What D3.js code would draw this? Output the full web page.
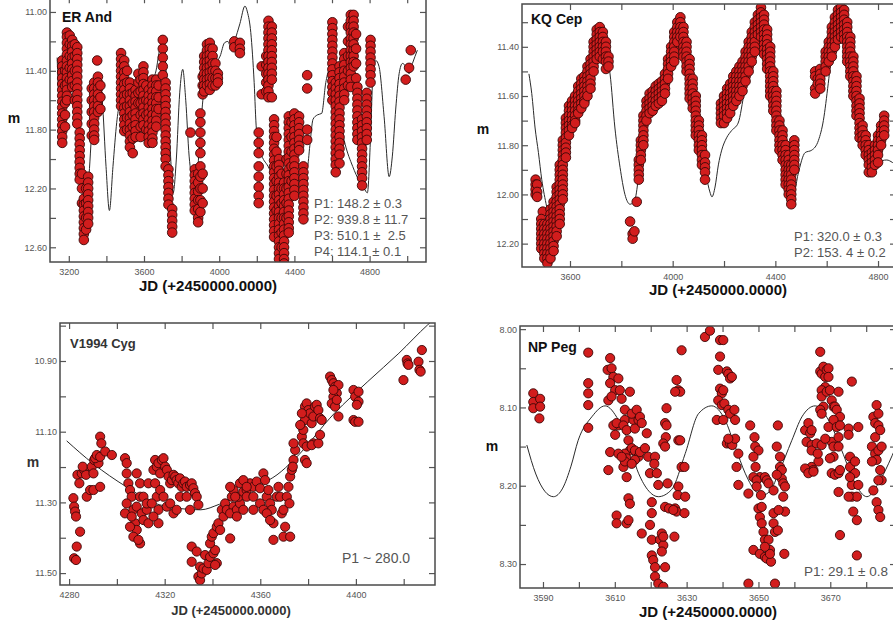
<!DOCTYPE html>
<html>
<head>
<meta charset="utf-8">
<script src="https://cdn.jsdelivr.net/npm/d3@7"></script>
<style>
  html, body { margin: 0; padding: 0; background: #fff; }
  svg { display: block; font-family: "Liberation Sans", Arial, sans-serif; }
</style>
</head>
<body>
<svg id="chart" width="893" height="625"></svg>
<script>
// ---- ER And : observations as [JD, mag, mag, ...] columns ----
const erAndObs = [
  [3165, 11.33,11.37,11.41,11.45,11.49,11.53,11.57,11.61,11.65,11.69,11.73,11.77,11.81,11.85,11.89],
  [3180, 11.40,11.50,11.62,11.70,11.78],
  [3190, 11.14,11.17,11.21,11.25,11.29,11.33,11.37,11.41,11.45,11.49,11.53,11.57,11.60],
  [3205, 11.16,11.22,11.30,11.38,11.46],
  [3218, 11.19,11.23,11.27,11.31,11.35,11.39,11.43,11.47,11.51],
  [3232, 11.22,11.30,11.40,11.50,11.60],
  [3245, 11.24,11.28,11.32,11.36,11.40,11.44,11.48,11.52,11.56,11.60,11.64,11.68,11.72,11.76],
  [3258, 11.82,11.86,11.90,11.94,11.98,12.02,12.06,12.10,12.14],
  [3270, 12.10,12.20,12.30],
  [3280, 12.27,12.31,12.35,12.39,12.43,12.47,12.51,12.55],
  [3292, 12.20,12.30,12.40,12.48],
  [3303, 12.12,12.16,12.20,12.24,12.28,12.32,12.36,12.40,12.44],
  [3322, 11.52,11.60,11.68,11.76,11.84],
  [3335, 11.48,11.52,11.56,11.60,11.64,11.68,11.72,11.76,11.80,11.84,11.87],
  [3351, 11.33],
  [3355, 11.44,11.48,11.52,11.56,11.60,11.64,11.68],
  [3368, 11.50,11.58,11.66],
  [3478, 11.28,11.32,11.36,11.40,11.44,11.48,11.52,11.56,11.60,11.64],
  [3495, 11.33,11.37,11.41,11.45,11.49,11.53,11.57,11.61,11.65,11.69,11.73,11.77,11.81],
  [3510, 11.40,11.48,11.56,11.64,11.72,11.80],
  [3525, 11.48,11.52,11.56,11.60,11.64,11.68,11.72,11.76,11.80,11.84,11.88,11.92],
  [3540, 11.55,11.62,11.70,11.78,11.86,11.96],
  [3555, 11.53,11.57,11.61,11.65,11.69,11.73,11.77,11.81,11.85],
  [3570, 11.42,11.48,11.55,11.62],
  [3582, 11.46,11.54,11.62,11.70,11.78,11.85],
  [3597, 11.37,11.41,11.45,11.49,11.53,11.57,11.61,11.65,11.69,11.73,11.77],
  [3612, 11.50,11.60,11.70,11.80],
  [3625, 11.53,11.57,11.61,11.65,11.69,11.73,11.77,11.81,11.85,11.89],
  [3645, 11.46,11.50,11.54,11.58,11.62,11.66,11.70,11.74,11.78,11.82,11.86,11.89],
  [3665, 11.46,11.50,11.54,11.58,11.62,11.66,11.70,11.74,11.78],
  [3678, 11.50,11.58,11.66],
  [3700, 11.19,11.25,11.31,11.37,11.43],
  [3715, 11.48,11.52,11.56,11.60,11.64,11.68,11.72,11.76,11.80,11.84,11.88,11.92,11.96,12.00,12.05],
  [3730, 12.07,12.11,12.15,12.19,12.23,12.27,12.31],
  [3750, 12.34,12.38,12.42,12.46,12.50],
  [3847, 11.82],
  [3870, 12.07,12.11,12.15,12.19,12.23,12.27,12.31,12.35],
  [3888, 12.10,12.16,12.22,12.28,12.34,12.40,12.43],
  [3900, 11.69,11.75,11.82,11.89,11.96,12.05,12.12,12.20,12.28,12.36],
  [3912, 11.44,11.50,11.56,12.10,12.20,12.30],
  [3920, 11.30,11.34,11.38,11.42,11.46,11.50,11.54],
  [3935, 11.22,11.26,11.30,11.34,11.38,11.42,11.46,11.50],
  [3950, 11.21,11.25,11.29,11.33,11.37,11.41,11.45,11.49,11.53],
  [3965, 11.25,11.30,11.35,11.40,11.45,11.50],
  [3980, 11.35,11.40,11.45,11.50],
  [3993, 11.42,11.45,11.48],
  [4080, 11.20,11.24],
  [4110, 11.21,11.25,11.28],
  [4210, 11.82,11.89,11.96,12.05,12.12,12.19,12.25,12.30],
  [4226, 11.37,11.56],
  [4250, 11.30,11.36,11.42,11.48,11.54],
  [4262, 11.06,11.10,11.14,11.18,11.22,11.26,11.30,11.34,11.38,11.42,11.46,11.50,11.54,11.58],
  [4280, 11.10,11.14,11.18,11.22,11.26,11.30,11.34,11.38,11.42,11.46,11.58],
  [4292, 11.73,11.77,11.81,11.85,11.89,11.93,11.97,12.01,12.05,12.09,12.13,12.17,12.21,12.25,12.29,12.33,12.37,12.41,12.45,12.49,12.53],
  [4305, 11.85,11.95,12.05,12.15,12.25,12.35],
  [4318, 12.00,12.04,12.08,12.12,12.16,12.20,12.24,12.28,12.32,12.36,12.40,12.44,12.48,12.52,12.56,12.60,12.64,12.68],
  [4332, 12.10,12.20,12.30,12.40,12.50,12.60],
  [4345, 12.16,12.20,12.24,12.28,12.32,12.36,12.40,12.44,12.48,12.52,12.56,12.60,12.64,12.68,12.71],
  [4358, 12.00,12.10,12.20,12.30,12.40],
  [4370, 11.71,11.75,11.79,11.83,11.87,11.91,11.95,11.99,12.03,12.07,12.11,12.15,12.19,12.23,12.27,12.31,12.35,12.39,12.43,12.47,12.50],
  [4385, 11.75,11.85,11.95,12.05,12.15],
  [4400, 11.69,11.73,11.77,11.81,11.85,11.89,11.93,11.97,12.01,12.05,12.09,12.13,12.17,12.21,12.25],
  [4425, 11.71,11.75,11.79,11.83,11.87,11.91,11.94],
  [4448, 12.05,12.09,12.13,12.17,12.21,12.25,12.29,12.33,12.37,12.41],
  [4468, 11.43,11.52,11.80,11.87],
  [4602, 11.07,11.11,11.15,11.19,11.23,11.27,11.31,11.35,11.39,11.43,11.47,11.51,11.55,11.60],
  [4620, 11.48,11.52,11.56,11.60,11.64,11.68,11.72,11.76,11.80,11.84,11.88,11.92,11.96,12.00,12.04,12.09],
  [4640, 11.37,11.41,11.45,11.49,11.53,11.57,11.61,11.65,11.69,11.73,11.77,11.81,11.85,11.89,11.93,11.97,12.03],
  [4665, 11.28,11.32,11.36,11.40,11.44,11.48,11.52,11.56,11.60],
  [4685, 11.10,11.20,11.30,11.40,11.50],
  [4700, 11.02,11.06,11.10,11.14,11.18,11.22,11.26,11.30,11.34,11.38,11.42,11.46,11.51],
  [4715, 11.02,11.06,11.10,11.14,11.18,11.22,11.26,11.30,11.34,11.37],
  [4728, 11.15,11.25,11.35,11.45],
  [4735, 11.51,11.55,11.59,11.63,11.67,11.71,11.75,11.79,11.83,11.87],
  [4760, 11.73,11.77,11.81,11.85,11.89,11.93,11.97,12.01,12.05,12.09,12.13,12.18],
  [4785, 11.55,11.59,11.63,11.67,11.71,11.75,11.79,11.83,11.87],
  [4805, 11.19,11.23,11.27,11.31,11.35,11.39,11.43,11.48],
  [4992, 11.46],
  [5010, 11.38],
  [5019, 11.26]
]
const erAndFit = [
  [3138,11.31],[3150,11.60],[3165,11.50],[3185,11.25],[3200,11.18],[3220,11.30],[3245,11.70],
  [3265,12.05],[3285,12.30],[3305,12.15],[3325,11.75],[3345,11.45],[3360,11.42],[3378,11.60],
  [3398,12.05],[3416,12.35],[3435,12.05],[3455,11.75],[3470,11.62],[3495,11.55],[3520,11.62],
  [3550,11.75],[3580,11.62],[3620,11.50],[3660,11.42],[3690,11.22],[3705,11.20],[3720,11.45],
  [3740,11.95],[3755,12.23],[3772,12.00],[3790,11.55],[3806,11.39],[3822,11.60],[3840,11.98],
  [3860,12.15],[3877,12.18],[3895,11.90],[3913,11.60],[3940,11.37],[3975,11.35],[4005,11.30],
  [4028,11.21],[4046,11.20],[4062,11.24],[4083,11.19],[4110,11.08],[4137,10.96],[4150,11.00],
  [4168,11.14],[4186,11.48],[4198,11.80],[4220,11.95],[4260,12.05],[4300,12.15],[4330,12.22],
  [4344,12.24],[4360,12.10],[4390,12.00],[4420,12.03],[4455,12.05],[4469,12.05],[4482,11.91],
  [4499,11.73],[4522,11.70],[4545,11.69],[4567,11.48],[4584,11.40],[4600,11.42],[4630,11.65],
  [4670,11.90],[4710,12.05],[4745,12.15],[4771,12.20],[4788,12.23],[4806,11.82],[4818,11.42],
  [4833,11.33],[4850,11.37],[4877,11.71],[4904,12.12],[4921,11.98],[4939,11.66],[4957,11.42],
  [4975,11.35],[4992,11.37],[5010,11.42],[5028,11.35],[5054,11.26]
]
const erAndXTicks = [3200,3400,3600,3800,4000,4200,4400,4600,4800,5000]
const erAndXLabels = [3200,3600,4000,4400,4800]
const erAndYTicks = [11.0,11.2,11.4,11.6,11.8,12.0,12.2,12.4,12.6]
const erAndYLabels = [11.0,11.4,11.8,12.2,12.6]
const erAndNotes = ['P1: 148.2 \u00b1 0.3', 'P2: 939.8 \u00b1 11.7', 'P3: 510.1 \u00b1  2.5', 'P4: 114.1 \u00b1 0.1']

// ---- KQ Cep ----
const kqCepObs = [
  [3466, 11.94,11.96,11.98,12.00], [3472, 11.96,11.99,12.01], [3494, 12.07],
  [3488, 12.10,12.12,12.14,12.16,12.18,12.20,12.22],
  [3500, 12.12,12.14,12.16,12.18,12.20,12.22,12.24,12.26],
  [3512, 12.12,12.14,12.16,12.18,12.20,12.22,12.24,12.26,12.28],
  [3524, 12.06,12.08,12.10,12.12,12.14,12.16,12.18,12.20,12.22,12.24,12.26],
  [3536, 12.03,12.05,12.07,12.09,12.11,12.13,12.15,12.17,12.19,12.21,12.23],
  [3548, 11.97,11.99,12.01,12.03,12.05,12.07,12.09,12.11,12.13,12.15,12.17],
  [3560, 11.88,11.90,11.92,11.94,11.96,11.98,12.00,12.02,12.04,12.06,12.08,12.10,12.12],
  [3572, 11.78,11.80,11.82,11.84,11.86,11.88,11.90,11.92,11.94,11.96,11.98,12.00,12.02],
  [3584, 11.69,11.71,11.73,11.75,11.77,11.79,11.81,11.83,11.85],
  [3596, 11.64,11.66,11.68,11.70,11.72,11.74,11.76],
  [3608, 11.62,11.64,11.66,11.68,11.70,11.72,11.73],
  [3620, 11.60,11.62,11.64,11.66,11.68,11.70,11.71],
  [3632, 11.56,11.58,11.60,11.62,11.64,11.66,11.67],
  [3644, 11.53,11.55,11.57,11.59,11.61,11.63,11.65],
  [3656, 11.52,11.54,11.56,11.58,11.60,11.62,11.63],
  [3668, 11.48,11.50,11.52,11.54,11.56,11.58,11.60],
  [3680, 11.45,11.47,11.49,11.51,11.53,11.55,11.57],
  [3692, 11.38,11.40,11.42,11.44,11.46,11.48,11.50],
  [3704, 11.33,11.35,11.37,11.39,11.41,11.43,11.45],
  [3716, 11.32,11.34,11.36,11.38,11.40,11.42,11.44],
  [3728, 11.34,11.36,11.38,11.40,11.42,11.45],
  [3740, 11.38,11.40,11.42,11.44,11.46,11.49],
  [3750, 11.44,11.46,11.48],
  [3834, 12.11], [3844, 12.16,12.18], [3851, 12.15], [3860, 12.03],
  [3868, 11.86,11.88,11.90,11.92,11.94],
  [3876, 11.78,11.80,11.82,11.84,11.86],
  [3886, 11.68,11.70,11.72,11.74,11.76,11.78,11.80],
  [3898, 11.62,11.64,11.66,11.68,11.70],
  [3910, 11.59,11.61,11.63,11.65,11.67],
  [3922, 11.58,11.60,11.62,11.64,11.66],
  [3934, 11.56,11.58,11.60,11.62,11.64],
  [3946, 11.55,11.57,11.59,11.61,11.63],
  [3958, 11.54,11.56,11.58,11.60,11.62],
  [3970, 11.51,11.53,11.55,11.57,11.59],
  [3982, 11.45,11.47,11.49,11.51,11.53],
  [3994, 11.40,11.42,11.44,11.46,11.48],
  [4006, 11.34,11.36,11.38,11.40,11.42,11.44,11.46],
  [4018, 11.30,11.32,11.34,11.36,11.38],
  [4030, 11.28,11.30,11.32,11.34,11.36],
  [4042, 11.32,11.34,11.36,11.38,11.40,11.42,11.44],
  [4054, 11.38,11.40,11.42,11.44,11.46,11.48,11.50],
  [4066, 11.45,11.47,11.49,11.51,11.53,11.55,11.57,11.59,11.61],
  [4078, 11.53,11.55,11.57,11.59,11.61,11.63,11.65],
  [4090, 11.60,11.62,11.64,11.66,11.68,11.70,11.72,11.74,11.76],
  [4102, 11.70,11.72,11.74,11.76,11.78,11.80,11.82],
  [4114, 11.76,11.78,11.80,11.82,11.84,11.86,11.88],
  [4126, 11.84,11.87,11.89,11.91,11.94],
  [4188, 11.63,11.65,11.67,11.69,11.71],
  [4200, 11.60,11.62,11.64,11.66,11.68,11.71],
  [4212, 11.57,11.59,11.61,11.63,11.65,11.67,11.69],
  [4224, 11.55,11.57,11.59,11.61,11.63,11.65,11.67],
  [4236, 11.52,11.54,11.56,11.58,11.60,11.62,11.64],
  [4248, 11.50,11.52,11.54,11.56,11.58,11.60,11.62],
  [4260, 11.48,11.50,11.52,11.54,11.56,11.58,11.60],
  [4272, 11.46,11.48,11.50,11.52,11.54,11.56,11.58],
  [4284, 11.42,11.44,11.46,11.48,11.50,11.52,11.54],
  [4296, 11.38,11.40,11.42,11.44,11.46,11.48,11.50],
  [4308, 11.34,11.36,11.38,11.40,11.42,11.44,11.46],
  [4320, 11.30,11.32,11.34,11.36,11.38,11.40,11.42],
  [4332, 11.27,11.29,11.31,11.33,11.35],
  [4344, 11.24,11.26,11.28,11.30,11.32,11.34,11.36],
  [4356, 11.27,11.29,11.31,11.33,11.35,11.37,11.39,11.41,11.43],
  [4368, 11.33,11.35,11.37,11.39,11.41,11.43,11.45,11.47,11.49],
  [4380, 11.40,11.42,11.44,11.46,11.48,11.50,11.52,11.54,11.56,11.58,11.60],
  [4392, 11.50,11.52,11.54,11.56,11.58,11.60,11.62,11.64,11.66],
  [4404, 11.58,11.60,11.62,11.64,11.66,11.68,11.70,11.72,11.74],
  [4416, 11.70,11.72,11.74,11.76,11.78,11.80,11.82],
  [4428, 11.74,11.76,11.78,11.80,11.82,11.84,11.86],
  [4440, 11.80,11.82,11.84,11.86,11.88,11.90,11.92,11.94,11.96],
  [4452, 11.84,11.86,11.88,11.90,11.92,11.94,11.96,11.98,12.00],
  [4462, 11.88,11.90,11.92,11.94,11.96,11.98,12.00,12.02,12.04],
  [4474, 11.78,11.80,11.82,11.84,11.86,11.88,11.90],
  [4555, 11.50,11.52,11.57,11.59], [4565, 11.53,11.55], [4575, 11.49,11.51,11.53,11.55,11.57],
  [4596, 11.42,11.44,11.46,11.48,11.50],
  [4608, 11.38,11.40,11.42,11.44,11.46],
  [4620, 11.32,11.34,11.36,11.38,11.40,11.42,11.44],
  [4632, 11.28,11.30,11.32,11.34,11.36,11.38,11.40],
  [4644, 11.25,11.27,11.29,11.31,11.33,11.35,11.37],
  [4656, 11.24,11.26,11.28,11.30,11.32,11.34,11.36],
  [4668, 11.25,11.27,11.29,11.31,11.33,11.35,11.37],
  [4680, 11.30,11.32,11.34,11.36,11.38,11.40,11.42,11.44,11.46],
  [4692, 11.36,11.38,11.40,11.42,11.44,11.46,11.48,11.50,11.52],
  [4704, 11.44,11.46,11.48,11.50,11.52,11.54,11.56,11.58,11.60],
  [4716, 11.52,11.54,11.56,11.58,11.60,11.62,11.64,11.66,11.68],
  [4728, 11.61,11.63,11.65,11.67,11.69,11.71,11.73,11.75,11.77],
  [4740, 11.72,11.74,11.76,11.78,11.80],
  [4752, 11.76,11.78,11.80,11.82,11.84],
  [4764, 11.80,11.82,11.84,11.86,11.88,11.91],
  [4776, 11.83,11.85,11.87,11.89,11.91],
  [4788, 11.80,11.82,11.84,11.86,11.88],
  [4800, 11.76,11.78,11.80,11.82,11.84,11.87],
  [4812, 11.72,11.74,11.76,11.78,11.80],
  [4824, 11.68,11.70,11.72,11.74,11.76]
]
const kqCepFit = [
  [3440,11.51],[3451,11.59],[3464,11.73],[3477,11.83],[3490,11.94],[3509,12.05],[3525,12.13],
  [3540,12.12],[3560,12.00],[3580,11.82],[3600,11.70],[3620,11.66],[3640,11.60],[3660,11.52],
  [3680,11.44],[3700,11.37],[3715,11.35],[3730,11.38],[3745,11.44],[3756,11.51],[3775,11.73],
  [3795,11.89],[3814,12.00],[3834,12.04],[3853,12.02],[3868,11.92],[3882,11.80],[3900,11.68],
  [3930,11.62],[3960,11.56],[3990,11.45],[4015,11.33],[4032,11.29],[4050,11.36],[4070,11.50],
  [4090,11.65],[4110,11.80],[4130,11.92],[4145,11.99],[4153,12.01],[4165,11.97],[4178,11.88],
  [4191,11.82],[4210,11.77],[4230,11.74],[4255,11.71],[4280,11.58],[4310,11.44],[4335,11.32],
  [4350,11.27],[4365,11.32],[4385,11.50],[4410,11.72],[4435,11.87],[4460,11.97],[4475,11.98],
  [4488,11.92],[4516,11.83],[4542,11.82],[4568,11.78],[4587,11.70],[4606,11.55],[4625,11.38],
  [4645,11.29],[4662,11.26],[4680,11.32],[4700,11.47],[4725,11.68],[4750,11.83],[4777,11.89],
  [4800,11.87],[4834,11.86],[4856,11.87],[4870,11.88]
]
const kqCepXTicks = [3600,3800,4000,4200,4400,4600,4800]
const kqCepXLabels = [3600,4000,4400,4800]
const kqCepYTicks = [11.3,11.4,11.5,11.6,11.7,11.8,11.9,12.0,12.1,12.2]
const kqCepYLabels = [11.4,11.6,11.8,12.0,12.2]
const kqCepNotes = ['P1: 320.0 \u00b1 0.3', 'P2: 153. 4 \u00b1 0.2']

// ---- V1994 Cyg : [JD, mag] ----
const v1994Obs = [
  [4281.8,11.288],[4282.1,11.312],[4282.5,11.326],[4282.9,11.340],[4283.2,11.425],[4282.1,11.458],
  [4282.9,11.463],[4284.6,11.383],[4283.5,11.222],[4284.3,11.246],[4285.3,11.218],[4286.3,11.208],
  [4287.1,11.222],[4285.7,11.199],[4287.4,11.284],[4288.8,11.265],[4289.5,11.199],[4290.2,11.218],
  [4290.5,11.180],[4291.6,11.171],[4292.3,11.189],[4290.2,11.265],[4293.0,11.256],[4290.9,11.175],
  [4291.6,11.166],[4293.0,11.171],[4293.0,11.114],[4293.5,11.133],[4295.1,11.156],[4297.9,11.166],
  [4303.4,11.175],[4304.1,11.189],[4304.1,11.218],[4304.8,11.246],[4305.5,11.265],[4306.2,11.284],
  [4303.4,11.331],[4304.1,11.303],[4306.9,11.321],[4307.6,11.359],[4308.3,11.378],[4306.9,11.397],
  [4309.7,11.416],[4309.0,11.406],[4305.5,11.369],[4306.2,11.340],[4308.3,11.312],[4309.7,11.284],
  [4310.4,11.331],[4311.1,11.350],[4313.2,11.359],[4312.5,11.321],[4308.3,11.218],[4309.7,11.246],
  [4311.1,11.284],[4313.2,11.246],[4312.5,11.303],
  [4315.3,11.208],[4316.0,11.180],[4316.7,11.199],[4317.4,11.189],[4318.1,11.218],[4318.8,11.180],
  [4319.5,11.175],[4320.2,11.199],[4320.9,11.208],[4321.6,11.227],[4322.3,11.246],[4323.0,11.237],
  [4323.7,11.222],[4324.4,11.227],[4325.0,11.237],[4325.7,11.246],[4326.4,11.232],[4327.1,11.256],
  [4327.8,11.246],[4328.5,11.241],[4329.2,11.256],[4330.6,11.251],[4331.3,11.246],[4332.0,11.260],
  [4332.7,11.274],[4333.4,11.284],[4334.1,11.307],[4316.0,11.246],[4316.7,11.284],[4317.4,11.321],
  [4318.1,11.265],[4319.5,11.284],[4320.9,11.312],[4322.3,11.303],[4323.7,11.331],[4325.0,11.321],
  [4326.4,11.284],[4329.2,11.284],[4330.6,11.321],[4317.4,11.359],[4314.6,11.303],[4315.3,11.340],
  [4331.3,11.425],[4331.3,11.468],[4333.4,11.439],[4334.1,11.510],[4334.8,11.520],[4335.5,11.501],
  [4334.8,11.482],[4336.2,11.487],[4337.6,11.491],[4336.9,11.449],[4338.3,11.472],[4339.0,11.454],
  [4340.4,11.444],[4341.1,11.435],[4341.8,11.472],[4341.1,11.477],[4339.0,11.416],[4339.7,11.397],
  [4340.4,11.387],[4341.8,11.369],[4342.5,11.359],[4343.2,11.378],[4343.9,11.321],[4344.6,11.340],
  [4345.3,11.303],[4346.0,11.321],[4347.4,11.402],[4348.1,11.284],[4348.8,11.312],[4347.4,11.331],
  [4350.2,11.321],[4351.5,11.303],[4350.9,11.284],[4352.9,11.270],[4354.3,11.265],[4355.7,11.246],
  [4357.1,11.256],[4358.5,11.241],[4359.9,11.260],[4361.3,11.218],[4362.0,11.237],[4362.7,11.284],
  [4363.4,11.265],[4364.1,11.303],[4364.8,11.321],[4365.5,11.359],[4365.5,11.406],[4366.9,11.284],
  [4367.6,11.256],[4368.3,11.284],[4369.0,11.331],[4369.7,11.321],[4370.4,11.369],[4369.7,11.397],
  [4371.1,11.284],[4371.8,11.256],[4372.5,11.227],[4373.2,11.208],[4373.9,11.180],[4374.6,11.152],
  [4373.9,11.133],[4373.6,11.199],[4372.2,11.303],[4372.5,11.397],[4351.5,11.246],[4352.9,11.237],
  [4354.3,11.256],[4348.8,11.265],[4347.4,11.256],[4350.2,11.340],[4354.3,11.284],[4357.1,11.284],
  [4359.9,11.303],[4361.3,11.321],[4362.7,11.331],[4364.1,11.350],[4357.1,11.321],[4352.9,11.321],
  [4349.5,11.284],
  [4377.4,11.114],[4378.0,11.095],[4378.7,11.067],[4378.7,11.029],[4379.4,11.020],[4380.1,11.039],
  [4380.8,11.048],[4381.5,11.076],[4382.2,11.057],[4382.9,11.029],[4383.6,11.024],[4384.3,11.039],
  [4385.0,11.062],[4385.7,11.067],[4378.0,11.133],[4379.4,11.142],[4378.7,11.180],[4379.4,11.189],
  [4382.2,11.133],[4381.5,11.138],[4384.3,11.133],[4385.0,11.109],[4376.7,11.081],[4377.4,11.048],
  [4389.2,10.944],[4389.9,10.954],[4390.6,10.963],[4391.3,10.973],[4392.0,10.991],[4390.6,11.001],
  [4389.9,11.020],[4391.3,11.029],[4392.0,11.010],[4392.7,10.968],[4392.7,11.057],[4390.6,10.982],
  [4399.0,10.982],[4399.7,11.001],[4401.1,10.987],[4401.1,11.015],[4400.4,11.024],[4399.0,11.067],
  [4399.7,11.072],[4401.1,11.072],
  [4419.9,10.954],[4421.3,10.897],[4421.6,10.907],[4422.0,10.911],[4426.2,10.902],[4426.6,10.925],
  [4427.1,10.930],[4427.6,10.869]
]
const v1994Fit = [
  [4279,11.126],[4290,11.19],[4304,11.256],[4318,11.307],[4335,11.321],[4343,11.305],[4352,11.28],
  [4360,11.25],[4367,11.222],[4374,11.18],[4391,11.048],[4405,10.958],[4418,10.878],[4430,10.798],[4433,10.78]
]
const v1994XTicks = [4280,4300,4320,4340,4360,4380,4400,4420]
const v1994XLabels = [4280,4320,4360,4400]
const v1994YTicks = [10.8,10.9,11.0,11.1,11.2,11.3,11.4,11.5]
const v1994YLabels = [10.9,11.1,11.3,11.5]
const v1994Notes = ['P1 ~ 280.0']

// ---- NP Peg : [JD, mag] ----
const npPegObs = [
  [3587.3,8.082],[3587.3,8.093],[3587.3,8.101],[3589.2,8.089],[3589.2,8.099],[3589.0,8.114],
  [3602.6,8.030],[3602.6,8.069],[3602.6,8.082],[3602.6,8.097],[3602.6,8.126],
  [3608.7,8.037],[3608.0,8.052],[3609.1,8.050],[3609.6,8.061],[3608.7,8.069],[3610.1,8.078],
  [3608.2,8.091],[3609.1,8.086],[3611.0,8.063],[3611.4,8.078],[3611.9,8.089],[3612.8,8.103],
  [3614.2,8.080],[3612.8,8.116],[3611.0,8.123],[3610.1,8.135],[3609.6,8.123],[3608.7,8.157],
  [3608.2,8.180],[3610.5,8.120],[3612.4,8.123],[3613.3,8.129],[3613.8,8.142],[3615.2,8.116],
  [3614.7,8.108],[3615.6,8.127],[3616.1,8.103],[3616.6,8.116],[3617.0,8.112],[3617.5,8.120],
  [3614.2,8.155],[3612.8,8.159],[3613.3,8.165],[3612.4,8.176],[3612.8,8.169],[3613.3,8.189],
  [3614.7,8.152],[3615.6,8.155],[3616.6,8.163],[3617.0,8.157],[3618.4,8.152],[3615.6,8.167],
  [3614.7,8.172],[3611.0,8.159],[3611.9,8.163],[3610.5,8.238],[3610.5,8.248],[3613.8,8.216],
  [3614.2,8.223],[3613.3,8.248],[3613.8,8.244],[3617.5,8.261],[3618.9,8.133],[3619.3,8.163],
  [3619.8,8.184],[3621.2,8.163],[3621.7,8.184],[3621.0,8.172],
  [3619.8,8.250],[3620.3,8.235],[3620.3,8.221],[3620.3,8.269],[3620.3,8.289],[3620.7,8.295],
  [3621.2,8.304],[3621.2,8.316],[3622.1,8.325],[3622.6,8.269],[3623.1,8.261],[3623.5,8.276],
  [3623.1,8.284],[3623.5,8.265],[3624.0,8.304],[3623.5,8.329],[3622.1,8.199],
  [3624.4,8.101],[3624.0,8.120],[3624.2,8.138],[3623.5,8.146],[3624.0,8.150],[3624.4,8.123],
  [3624.7,8.197],[3624.0,8.227],[3625.1,8.229],[3626.8,8.229],[3627.2,8.233],[3626.3,8.231],
  [3626.6,8.265],[3627.7,8.201],[3627.7,8.142],[3628.2,8.142],[3627.5,8.212],[3628.6,8.176],
  [3629.4,8.176],[3629.4,8.235],[3629.6,8.214],[3627.2,8.065],[3627.7,8.078],[3628.2,8.080],
  [3628.6,8.027],[3626.8,8.080],
  [3635.1,8.010],[3636.5,8.002],[3639.3,8.014],[3640.2,8.014],[3639.3,8.035],[3638.8,8.052],
  [3639.3,8.076],[3639.8,8.082],[3640.2,8.078],[3641.2,8.054],[3641.6,8.057],[3642.1,8.063],
  [3642.6,8.061],[3638.8,8.091],[3639.8,8.097],[3640.5,8.095],[3638.4,8.116],[3640.2,8.116],
  [3641.6,8.103],[3642.1,8.108],[3643.3,8.103],[3643.5,8.116],[3641.2,8.146],[3642.1,8.146],
  [3642.7,8.148],[3643.5,8.140],[3644.4,8.159],[3643.9,8.176],[3644.4,8.199],[3641.6,8.140],
  [3647.7,8.123],[3648.9,8.138],[3649.1,8.150],[3650.0,8.155],[3648.6,8.163],[3649.2,8.176],
  [3650.4,8.189],[3648.6,8.189],[3649.5,8.193],[3650.7,8.212],[3647.2,8.210],[3649.5,8.201],
  [3651.8,8.189],[3652.3,8.193],[3652.8,8.197],[3654.2,8.206],[3650.0,8.229],[3650.4,8.240],
  [3650.9,8.248],[3651.4,8.259],[3651.8,8.269],[3648.6,8.282],[3650.4,8.287],[3651.8,8.291],
  [3652.3,8.293],[3653.2,8.282],[3652.8,8.269],[3654.2,8.235],[3654.2,8.248],[3654.6,8.259],
  [3655.4,8.257],[3653.5,8.297],[3653.2,8.287],[3651.8,8.278],[3647.2,8.325],[3654.6,8.325],
  [3655.4,8.123],[3655.1,8.150],[3656.0,8.163],[3656.0,8.176],[3656.5,8.180],[3656.5,8.191],
  [3656.9,8.197],[3657.4,8.201],[3656.9,8.214],[3657.4,8.233],[3657.2,8.287],[3655.6,8.231],
  [3650.9,8.227],[3655.1,8.186],
  [3663.0,8.129],[3663.4,8.144],[3663.9,8.120],[3664.4,8.133],[3664.8,8.148],[3664.8,8.155],
  [3664.8,8.176],[3665.3,8.180],[3666.7,8.169],[3666.2,8.146],[3666.5,8.159],[3667.6,8.148],
  [3663.0,8.178],[3663.9,8.184],[3665.3,8.182],[3664.8,8.129],
  [3667.2,8.029],[3667.2,8.054],[3667.6,8.057],[3668.1,8.048],[3668.6,8.061],[3669.0,8.052],
  [3669.5,8.050],[3669.5,8.061],[3668.6,8.074],[3667.6,8.078],[3667.6,8.086],[3668.1,8.099],
  [3667.2,8.103],[3667.6,8.108],[3669.0,8.080],[3669.9,8.078],[3670.4,8.091],[3670.9,8.099],
  [3671.3,8.099],[3671.8,8.103],[3672.3,8.080],[3672.7,8.112],[3670.9,8.116],[3669.5,8.125],
  [3670.4,8.144],[3670.9,8.150],[3672.3,8.150],[3671.8,8.125],[3668.6,8.140],[3670.9,8.163],
  [3669.9,8.165],[3670.4,8.184],[3671.3,8.186],[3672.3,8.184],[3672.7,8.180],[3672.3,8.138],
  [3672.7,8.123],[3672.3,8.208],[3672.7,8.263],[3675.1,8.127],[3675.1,8.135],[3677.8,8.125],
  [3676.0,8.067],[3675.5,8.163],[3675.5,8.176],[3676.0,8.199],[3676.0,8.214],[3676.4,8.233],
  [3677.4,8.244],[3677.4,8.289],[3676.9,8.169],[3676.9,8.184],[3677.4,8.214],[3677.8,8.199],
  [3675.1,8.214],[3675.5,8.189],
  [3682.0,8.112],[3682.5,8.120],[3682.5,8.138],[3682.9,8.097],[3683.4,8.108],[3683.4,8.123],
  [3683.9,8.129],[3681.6,8.150],[3682.5,8.159],[3682.9,8.167],[3681.6,8.169],[3683.4,8.155],
  [3682.0,8.206],[3682.9,8.221],[3683.4,8.231],[3683.9,8.240],[3684.3,8.193],[3683.9,8.180],
  [3684.3,8.150],[3683.4,8.193]
]
const npPegFit = [
  [3585.5,8.148],[3588.0,8.185],[3590.5,8.207],[3592.9,8.214],[3595.5,8.203],[3597.8,8.175],
  [3599.8,8.142],[3603.6,8.112],[3607.3,8.098],[3611.0,8.116],[3613.3,8.138],[3616.6,8.184],
  [3619.5,8.207],[3622.1,8.214],[3625.8,8.205],[3629.6,8.159],[3633.3,8.108],[3637.0,8.098],
  [3640.7,8.116],[3643.5,8.150],[3646.3,8.184],[3648.8,8.205],[3651.2,8.212],[3653.5,8.205],
  [3655.6,8.184],[3659.3,8.142],[3662.1,8.112],[3665.8,8.098],[3669.5,8.116],[3673.2,8.155],
  [3676.9,8.197],[3680.2,8.214],[3683.4,8.197],[3686.2,8.172],[3688.3,8.150]
]
const npPegXTicks = [3590,3600,3610,3620,3630,3640,3650,3660,3670,3680]
const npPegXLabels = [3590,3610,3630,3650,3670]
const npPegYTicks = [8.0,8.05,8.1,8.15,8.2,8.25,8.3]
const npPegYLabels = [8.0,8.1,8.2,8.3]
const npPegNotes = ['P1: 29.1 \u00b1 0.8']

const columnsToPoints = cols => cols.flatMap(([jd, ...ms]) => ms.map(m => [jd, m]))

class LightCurvePanel {
  constructor(svg, opts) {
    this.svg = svg
    this.o = opts
  }

  _isLabel(list, v) {
    return list.some(d => Math.abs(d - v) < 1e-6)
  }

  draw() {
    const o = this.o
    const g = this.svg.append('g').attr('transform', `translate(${o.left},${o.top})`)
    const x = d3.scaleLinear().domain(o.xDomain).range([0, o.width])
    const y = d3.scaleLinear().domain(o.yDomain).range([0, o.height])

    const clipId = 'clip-' + o.id
    g.append('clipPath').attr('id', clipId)
      .append('rect').attr('width', o.width).attr('height', o.height)

    const plot = g.append('g').attr('clip-path', `url(#${clipId})`)

    plot.append('path')
      .datum(o.fit)
      .attr('fill', 'none')
      .attr('stroke', '#2a2a2a')
      .attr('stroke-width', 1)
      .attr('d', d3.line().x(d => x(d[0])).y(d => y(d[1])).curve(d3.curveMonotoneX))

    plot.selectAll('circle')
      .data(o.points)
      .enter()
      .append('circle')
      .attr('cx', d => x(d[0]))
      .attr('cy', d => y(d[1]))
      .attr('r', o.r || 4.6)
      .attr('fill', '#d21d1d')
      .attr('stroke', '#3a0707')
      .attr('stroke-width', 0.9)

    const yFmt = d3.format('.2f')
    const tickLen = 6
    const axes = [
      ['bottom', d3.axisBottom(x).tickValues(o.xTicks)
        .tickFormat(d => this._isLabel(o.xLabels, d) ? d : ''), `translate(0,${o.height})`],
      ['top', d3.axisTop(x).tickValues(o.xTicks).tickFormat(''), null],
      ['left', d3.axisLeft(y).tickValues(o.yTicks)
        .tickFormat(d => this._isLabel(o.yLabels, d) ? yFmt(d) : ''), null],
      ['right', d3.axisRight(y).tickValues(o.yTicks).tickFormat(''), `translate(${o.width},0)`]
    ]
    axes.forEach(([side, axis, tr]) => {
      const a = g.append('g')
        .call(axis.tickSize(-tickLen).tickPadding(side === 'bottom' ? 7 : 3))
      if (tr) a.attr('transform', tr)
      a.select('.domain').remove()
      a.selectAll('line').attr('stroke', '#555').attr('stroke-width', 1.2)
      a.selectAll('text')
        .attr('fill', '#555')
        .style('font-size', '9px')
        .style('font-family', '"Liberation Sans", Arial, sans-serif')
    })

    g.append('rect')
      .attr('width', o.width)
      .attr('height', o.height)
      .attr('fill', 'none')
      .attr('stroke', '#4a4a4a')
      .attr('stroke-width', 1.5)

    const s = this.svg
    s.append('text').text(o.title)
      .attr('x', o.titlePos[0]).attr('y', o.titlePos[1])
      .attr('font-weight', 'bold').attr('font-size', o.titleSize)
      .attr('fill', o.titleColor || '#111')

    s.append('text').text('m')
      .attr('x', o.mPos[0]).attr('y', o.mPos[1])
      .attr('text-anchor', 'middle')
      .attr('font-weight', 'bold').attr('font-size', 14)
      .attr('fill', o.titleColor || '#111')

    s.append('text').text('JD (+2450000.0000)')
      .attr('x', o.xTitlePos[0]).attr('y', o.xTitlePos[1])
      .attr('text-anchor', 'middle')
      .attr('font-weight', 'bold').attr('font-size', o.xTitleSize)
      .attr('fill', o.titleColor || '#111')

    s.selectAll(null)
      .data(o.notes)
      .enter()
      .append('text')
      .text(d => d)
      .attr('x', o.notePos[0])
      .attr('y', (d, i) => o.notePos[1] + i * o.noteGap)
      .attr('text-anchor', o.noteAnchor || 'start')
      .attr('font-size', o.noteSize)
      .attr('fill', '#555')
      .style('white-space', 'pre')
  }
}

const svg = d3.select('#chart')

new LightCurvePanel(svg, {
  id: 'erand', left: 50, top: -2.75, width: 376, height: 264.75,
  xDomain: [3100, 5100], yDomain: [10.90, 12.70], r: 4.8,
  points: columnsToPoints(erAndObs), fit: erAndFit,
  xTicks: erAndXTicks, xLabels: erAndXLabels, yTicks: erAndYTicks, yLabels: erAndYLabels,
  title: 'ER And', titlePos: [62, 22], titleSize: 14,
  mPos: [14, 123], xTitlePos: [208, 291], xTitleSize: 15,
  notes: erAndNotes, notePos: [314, 207.5], noteGap: 16.3, noteSize: 13
}).draw()

new LightCurvePanel(svg, {
  id: 'kqcep', left: 522, top: 4, width: 374, height: 263,
  xDomain: [3413, 4870], yDomain: [11.226, 12.295], r: 4.8,
  points: columnsToPoints(kqCepObs), fit: kqCepFit,
  xTicks: kqCepXTicks, xLabels: kqCepXLabels, yTicks: kqCepYTicks, yLabels: kqCepYLabels,
  title: 'KQ Cep', titlePos: [531, 24], titleSize: 14,
  mPos: [483, 134], xTitlePos: [718, 295], xTitleSize: 15,
  notes: kqCepNotes, notePos: [794, 241], noteGap: 15.5, noteSize: 13
}).draw()

new LightCurvePanel(svg, {
  id: 'v1994', left: 60, top: 323, width: 375, height: 262,
  xDomain: [4276.2, 4433.1], yDomain: [10.7925, 11.5337],
  points: v1994Obs, fit: v1994Fit,
  xTicks: v1994XTicks, xLabels: v1994XLabels, yTicks: v1994YTicks, yLabels: v1994YLabels,
  title: 'V1994 Cyg', titlePos: [70, 348], titleSize: 13, titleColor: '#333',
  mPos: [33, 467], xTitlePos: [231, 615], xTitleSize: 13,
  notes: v1994Notes, notePos: [342, 563], noteGap: 16, noteSize: 14
}).draw()

new LightCurvePanel(svg, {
  id: 'nppeg', left: 520, top: 326, width: 376, height: 262,
  xDomain: [3583.6, 3688.3], yDomain: [7.996, 8.3306],
  points: npPegObs, fit: npPegFit,
  xTicks: npPegXTicks, xLabels: npPegXLabels, yTicks: npPegYTicks, yLabels: npPegYLabels,
  title: 'NP Peg', titlePos: [528, 352], titleSize: 14,
  mPos: [492, 451], xTitlePos: [708, 617], xTitleSize: 15,
  notes: npPegNotes, notePos: [888, 576], noteGap: 16, noteSize: 13.5, noteAnchor: 'end'
}).draw()
</script>
</body>
</html>
